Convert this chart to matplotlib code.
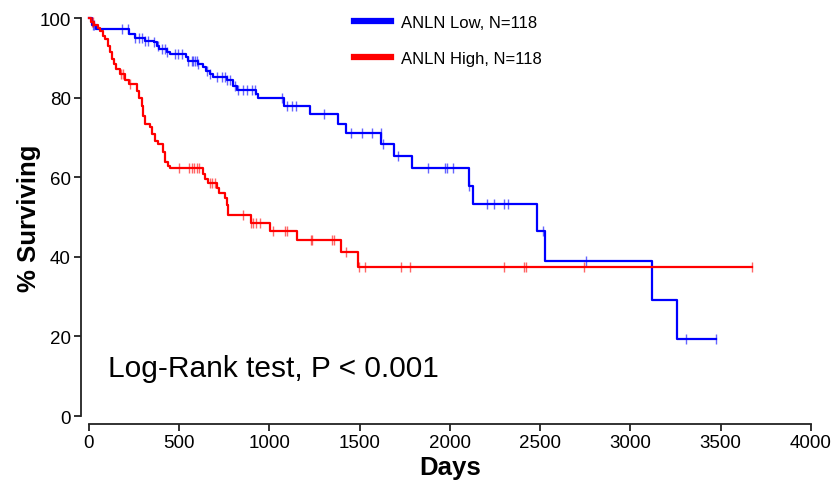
import numpy as np
import matplotlib
matplotlib.use("Agg")
import matplotlib.pyplot as plt
from matplotlib.lines import Line2D

# ---- data ----
low_label = "ANLN Low, N=118"
high_label = "ANLN High, N=118"

low_event_days = [0, 15, 40, 222, 255, 310, 360, 375, 390, 432, 450, 537, 548, 604, 632, 648,
                  670, 687, 763, 798, 820, 925, 936, 1080, 1224, 1380, 1422, 1618, 1690, 1788,
                  2107, 2129, 2482, 2526, 3121, 3256]
low_surv = [100, 98.3, 97.2, 96.0, 95.1, 94.3, 93.9, 92.9, 92.2, 91.5, 90.9, 90.1, 89.1, 88.4,
            87.6, 86.8, 85.9, 85.1, 84.3, 83.0, 81.9, 80.9, 79.8, 78.0, 75.8, 73.4, 71.1, 68.3,
            65.4, 62.4, 57.9, 53.3, 46.6, 39.0, 29.1, 19.3]
low_end = 3474
low_censor_days = [20, 30, 181, 218, 255, 279, 292, 310, 329, 362, 384, 402, 421, 434, 476, 495,
                   513, 550, 568, 578, 587, 596, 605, 652, 670, 707, 735, 753, 763, 781, 809, 827,
                   855, 873, 901, 920, 1067, 1099, 1123, 1147, 1302, 1451, 1514, 1566, 1616, 1631,
                   1714, 1876, 1972, 1985, 2015, 2107, 2203, 2244, 2299, 2320, 2517, 2752, 3306, 3474]

high_event_days = [0, 10, 30, 52, 61, 79, 89, 107, 116, 129, 140, 150, 172, 199, 223, 264, 279,
                   292, 301, 310, 338, 347, 366, 384, 408, 421, 440, 449, 633, 643, 660, 707, 718,
                   753, 762, 768, 897, 1003, 1150, 1396, 1488]
high_surv = [100, 99.0, 98.3, 97.5, 96.8, 95.5, 94.7, 93.0, 91.4, 89.7, 88.4, 87.2, 85.9, 84.3,
             83.4, 81.7, 80.0, 78.0, 75.4, 73.4, 72.5, 70.9, 69.2, 68.3, 66.3, 63.7, 62.9, 62.2,
             60.8, 59.6, 58.5, 57.4, 56.0, 54.7, 53.0, 50.5, 48.6, 46.6, 44.2, 41.2, 37.4]
high_end = 3671
high_censor_days = [15, 22, 175, 190, 227, 500, 556, 568, 581, 596, 609, 670, 683, 698, 851, 897,
                    910, 923, 947, 1017, 1086, 1095, 1228, 1237, 1344, 1356, 1422, 1497, 1529,
                    1728, 1778, 2299, 2410, 2421, 2744, 3671]

x_ticks = [0, 500, 1000, 1500, 2000, 2500, 3000, 3500, 4000]
y_ticks = [0, 20, 40, 60, 80, 100]
annotation = "Log-Rank test, P < 0.001"

LOW_C = "#0000ff"
HIGH_C = "#ff0000"

plt.rcParams['font.family'] = ['Liberation Sans', 'DejaVu Sans']

fig = plt.figure(figsize=(8.37, 4.85), dpi=100)
ax = fig.add_axes([89/837, 1-417/485, (811-89)/837, (417-19)/485])


def step_value(days, surv, t):
    idx = np.searchsorted(np.asarray(days), t, side='right') - 1
    return np.asarray(surv)[idx]


def draw_curve(days, surv, end, cens, color, label):
    x = list(days) + [end]
    y = list(surv) + [surv[-1]]
    ax.step(x, y, where='post', color=color, lw=1.6, clip_on=False, label=label, zorder=3)
    cy = step_value(days, surv, np.asarray(cens))
    ax.plot(cens, cy, linestyle='none', marker='|', markersize=7, mew=1.0,
            color=color, alpha=0.6, clip_on=False, zorder=3)


draw_curve(low_event_days, low_surv, low_end, low_censor_days, LOW_C, low_label)
draw_curve(high_event_days, high_surv, high_end, high_censor_days, HIGH_C, high_label)

ax.set_xlim(0, 4000)
ax.set_ylim(0, 100)
ax.set_xticks(x_ticks)
ax.set_yticks(y_ticks)
for s in ['top', 'right']:
    ax.spines[s].set_visible(False)
ax.spines['left'].set_position(('outward', 6))
ax.spines['bottom'].set_position(('outward', 6))
for s in ['left', 'bottom']:
    ax.spines[s].set_linewidth(1.3)
    ax.spines[s].set_color('#222222')
ax.tick_params(axis='both', length=5, width=1.3, color='#222222', labelsize=13.5,
               pad=2)

ax.set_xlabel("Days", fontsize=18.5, fontweight='bold', labelpad=3)
ax.set_ylabel("% Surviving", fontsize=18.5, fontweight='bold', labelpad=-1)

ax.text(105, 12.0, annotation, fontsize=21.5, ha='left', va='center', transform=ax.transData)

handles = [Line2D([0], [0], color=LOW_C, lw=4.5), Line2D([0], [0], color=HIGH_C, lw=4.5)]
leg = ax.legend(handles, [low_label, high_label], loc='upper left',
                bbox_to_anchor=((339-89)/722, 1.045), frameon=False, fontsize=12,
                handlelength=2.2, handletextpad=0.6, labelspacing=1.25)

fig.savefig("out.png", dpi=100, facecolor='white')
